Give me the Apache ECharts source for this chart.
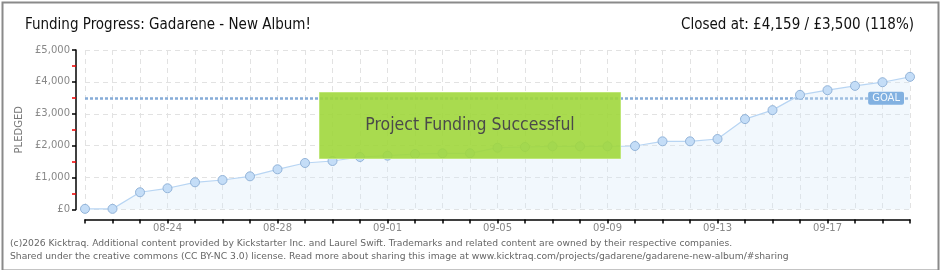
<!DOCTYPE html>
<html>
<head>
<meta charset="utf-8">
<script src="https://cdn.jsdelivr.net/npm/echarts@6/dist/echarts.min.js"></script>
<style>
html,body{margin:0;padding:0;background:#fff;}
#chart{width:940px;height:270px;}
</style>
</head>
<body>
<div id="chart"></div>
<script>
const dates = ["08-21","08-22","08-23","08-24","08-25","08-26","08-27","08-28","08-29","08-30","08-31",
  "09-01","09-02","09-03","09-04","09-05","09-06","09-07","09-08","09-09","09-10","09-11","09-12",
  "09-13","09-14","09-15","09-16","09-17","09-18","09-19","09-20"];
const pledged = [20, 20, 540, 665, 853, 925, 1040, 1260, 1458, 1520, 1646, 1687, 1740, 1762, 1762,
  1937, 1960, 1981, 1981, 1981, 1991, 2138, 2138, 2210, 2834, 3115, 3594, 3740, 3875, 3990, 4159];
const goal = 3500;
const titleText = "Funding Progress: Gadarene - New Album!";
const closedText = "Closed at: £4,159 / £3,500 (118%)";
const bannerText = "Project Funding Successful";
const footerLines = [
  "(c)2026 Kicktraq. Additional content provided by Kickstarter Inc. and Laurel Swift. Trademarks and related content are owned by their respective companies.",
  "Shared under the creative commons (CC BY-NC 3.0) license. Read more about sharing this image at www.kicktraq.com/projects/gadarene/gadarene-new-album/#sharing"
];

const chart = echarts.init(document.getElementById('chart'), null, {renderer: 'canvas'});
const headFont = '"Liberation Sans Narrow", "DejaVu Sans Condensed", sans-serif';
chart.setOption({
  animation: false,
  backgroundColor: '#fff',
  title: [
    {text: titleText, left: 20, top: 13, textStyle: {fontFamily: headFont, fontSize: 15, fontWeight: 'normal', color: '#111'}},
    {text: closedText, right: 21, top: 13, textStyle: {fontFamily: headFont, fontSize: 15, fontWeight: 'normal', color: '#111'}}
  ],
  grid: {left: 85, right: 30, top: 50, bottom: 60.5},
  xAxis: {
    type: 'category',
    data: dates,
    boundaryGap: false,
    offset: 10,
    axisLine: {onZero: false, lineStyle: {color: '#000', width: 1.5}},
    axisTick: {show: true, interval: 0, length: 4, lineStyle: {color: '#000', width: 1.5}},
    axisLabel: {
      interval: (i) => i % 4 === 3,
      color: '#888', fontSize: 10, fontFamily: 'DejaVu Sans', margin: 4
    },
    splitLine: {show: true, interval: 0, lineStyle: {color: '#e2e2e2', type: [5, 4]}}
  },
  yAxis: {
    type: 'value',
    min: 0, max: 5000, interval: 1000,
    offset: 9,
    name: 'PLEDGED',
    nameLocation: 'middle',
    nameGap: 49,
    nameRotate: 90,
    nameTextStyle: {color: '#777', fontSize: 10, fontFamily: 'DejaVu Sans'},
    axisLine: {show: true, onZero: false, lineStyle: {color: '#000', width: 1.5}},
    axisTick: {show: true, length: 4, lineStyle: {color: '#000', width: 1.5}},
    minorTick: {show: true, splitNumber: 2, length: 4, lineStyle: {color: '#e00', width: 1.5}},
    axisLabel: {
      formatter: (v) => '£' + v.toLocaleString('en-US'),
      color: '#888', fontSize: 10, fontFamily: 'DejaVu Sans', margin: 6
    },
    splitLine: {show: true, lineStyle: {color: '#e2e2e2', type: [5, 4]}}
  },
  series: [{
    type: 'line',
    data: pledged,
    symbol: 'circle',
    symbolSize: 9,
    z: 3,
    lineStyle: {color: '#b8d5f3', width: 1.2},
    itemStyle: {color: '#c4ddf7', borderColor: '#93b4d9', borderWidth: 1},
    areaStyle: {color: 'rgba(214,232,250,0.45)'},
    markLine: {
      silent: true,
      symbol: 'none',
      z: 2,
      lineStyle: {color: '#86acd8', type: [3, 2], width: 2.5},
      label: {
        show: true,
        position: 'insideEndTop',
        formatter: 'GOAL',
        color: '#fff',
        backgroundColor: '#5b97d6',
        borderRadius: 2,
        padding: [2, 4, 1, 4],
        fontFamily: 'DejaVu Sans',
        fontSize: 10,
        distance: [6, -7]
      },
      data: [{yAxis: goal}]
    }
  }],
  graphic: [
    {type: 'rect', left: 'center', top: 92, shape: {width: 301, height: 66}, z: 10,
      style: {fill: 'rgba(160,215,60,0.9)', stroke: 'rgba(190,230,120,1)', lineWidth: 1}},
    {type: 'text', left: 'center', top: 116, z: 11,
      style: {text: bannerText, fill: '#4a4a4a', font: '17.5px ' + headFont,
        textShadowColor: '#fff', textShadowOffsetX: 1, textShadowOffsetY: 1, textShadowBlur: 0}},
    {type: 'text', left: 10, top: 237, z: 11,
      style: {text: footerLines.join('\n'), fill: '#666', font: '9.2px "DejaVu Sans"', lineHeight: 13}},
    {type: 'rect', left: 0, top: 0, z: 20, silent: true,
      shape: {x: 0, y: 0, width: 936, height: 268},
      style: {fill: 'none', stroke: '#8a8a8a', lineWidth: 2}}
  ]
});
</script>
</body>
</html>
